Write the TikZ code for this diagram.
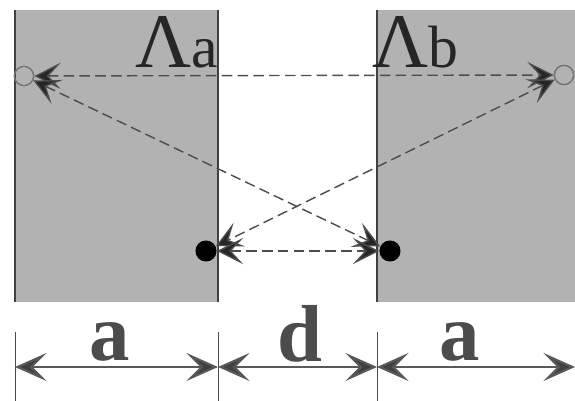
\documentclass[tikz,border=0pt]{standalone}
\usepackage{fontspec}
\setmainfont{Liberation Serif}
\usetikzlibrary{arrows.meta}
\begin{document}
\begin{tikzpicture}[
        x=0.02cm, y=-0.02cm,
        slab/.style={fill=black!30, draw=none},
        wall/.style={draw=black!75, thick},
        openpt/.style={draw=black!55, circle, inner sep=0pt, minimum size=11pt, thick},
        fullpt/.style={fill=black, circle, inner sep=0pt, minimum size=12pt},
        ray/.style={draw=black!70, thick, dash pattern=on 6pt off 3pt,
            {Stealth[length=15pt, width=15pt, inset=7pt, fill=black!85]}-{Stealth[length=15pt, width=15pt, inset=7pt, fill=black!85]}},
        dim/.style={draw=black!65, very thick,
            {Stealth[length=18pt, width=16pt, inset=8pt, fill=black!75]}-{Stealth[length=18pt, width=16pt, inset=8pt, fill=black!75]}},
        lam/.style={text=black!85, inner sep=0pt},
        dimlab/.style={font=\bfseries\fontsize{46}{48}\selectfont, text=black!70, inner sep=0pt},
    ]
    \useasboundingbox (0,0) rectangle (575,401);
    % slabs
    \fill[slab] (15,10) rectangle (218,302);
    \fill[slab] (377,10) rectangle (575,302);
    \draw[wall] (15,10) -- (15,302);
    \draw[wall] (218,10) -- (218,302);
    \draw[wall] (377,10) -- (377,302);
    \node[lam] (la) at (177,42) {\fontsize{44}{46}\selectfont Λ\fontsize{34}{36}\selectfont a};
    \node[lam] (lb) at (415,42) {\fontsize{44}{46}\selectfont Λ\fontsize{34}{36}\selectfont b};
    % points
    \node[openpt] (pa) at (24,76) {};
    \node[openpt] (pb) at (564,75) {};
    \node[fullpt] (qa) at (206,251) {};
    \node[fullpt] (qb) at (390,251) {};
    \draw[ray] (pa) -- (pb);
    \draw[ray] (pa) -- (qb);
    \draw[ray] (pb) -- (qa);
    \draw[ray] (qa) -- (qb);
    % dimensions
    \coordinate (d0) at (15,367);
    \coordinate (d1) at (218,367);
    \coordinate (d2) at (377,367);
    \coordinate (d3) at (575,367);
    \foreach \x in {15,218,377} \draw[black!70] (\x,332) -- (\x,401);
    \draw[dim] (d0) -- (d1);
    \draw[dim] (d1) -- (d2);
    \draw[dim] (d2) -- (d3);
    \node[dimlab] (wa) at (110,342) {a};
    \node[dimlab] (wd) at (300,334) {d};
    \node[dimlab] (wb) at (460,342) {a};
\end{tikzpicture}
\end{document}
